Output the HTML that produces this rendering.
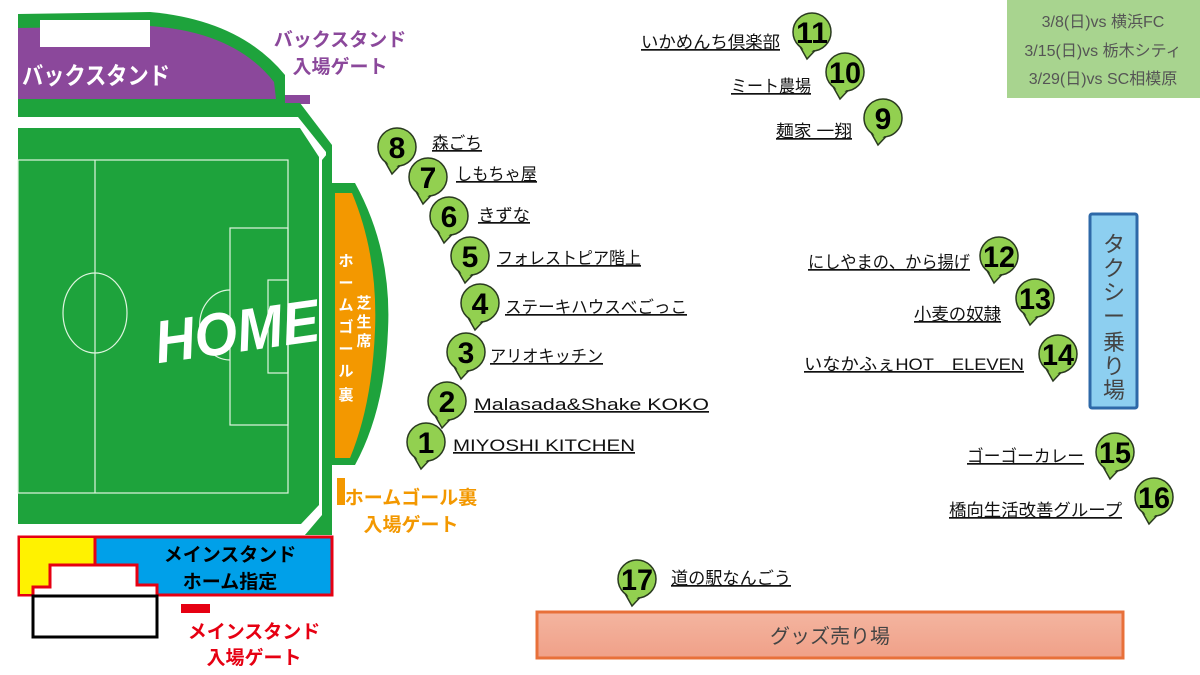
<!DOCTYPE html>
<html><head><meta charset="utf-8"><style>
html,body{margin:0;padding:0;background:#fff;}
svg{display:block;}
text{font-family:"Liberation Sans","Noto Sans CJK JP",sans-serif;}
.lb{font-size:17px;fill:#111;text-decoration:underline;}
.num{font-size:30px;fill:#000;font-weight:bold;}
</style></head><body>
<svg width="1200" height="675" viewBox="0 0 1200 675" xmlns="http://www.w3.org/2000/svg">
<defs>
<linearGradient id="gg" x1="0" y1="0" x2="0" y2="1"><stop offset="0" stop-color="#f4b5a0"/><stop offset="1" stop-color="#f0a088"/></linearGradient>
<g id="pin"><path d="M-14,11 L-5,27 L12,9 Z" fill="#92d050" stroke="#2a3a20" stroke-width="1.5"/><circle cx="0" cy="0" r="19" fill="#92d050" stroke="#2a3a20" stroke-width="1.5"/><path d="M-12,12 L-5,24 L10,10 Z" fill="#92d050"/></g>
</defs>

<!-- Back stand -->
<path d="M18,14 L150,12 Q240,20 285,75 L285,103 L18,103 Z" fill="#1ea33c"/>
<path d="M18,28 L150,26 Q235,32 274,82 L276,99 L18,99 Z" fill="#8b489b"/>
<rect x="40" y="20" width="110" height="27" fill="#fff"/>
<text x="22" y="84" font-size="24" font-weight="bold" fill="#fff" textLength="148" lengthAdjust="spacingAndGlyphs">バックスタンド</text>
<rect x="285" y="95" width="25" height="9" fill="#8b489b"/>
<text x="340" y="46" font-size="19" font-weight="bold" fill="#8b489b" text-anchor="middle">バックスタンド</text>
<text x="340" y="73" font-size="19" font-weight="bold" fill="#8b489b" text-anchor="middle">入場ゲート</text>

<!-- Field outer -->
<path d="M18,103 L300,103 L332,145 L332,535 L18,535 Z" fill="#1ea33c"/>
<path d="M18,117 L298,117 L326,152 L326,515 L305,535 L18,535 Z" fill="#fff"/>
<path d="M18,128 L300,128 L319,157 L319,505 L301,524 L18,524 Z" fill="#1ea33c"/>
<path d="M322,160 L332,148 L332,535 L305,535 L322,515 Z" fill="#1ea33c"/>
<g stroke="#dff5df" stroke-width="1.2" fill="none">
<rect x="18" y="160" width="270" height="333"/>
<line x1="95" y1="160" x2="95" y2="493"/>
<ellipse cx="95" cy="313" rx="32" ry="40"/>
<rect x="230" y="228" width="58" height="197"/>
<rect x="268" y="280" width="20" height="93"/>
<path d="M230,290 A26,30 0 0,0 230,360"/>
</g>
<text x="236" y="352" font-size="60" font-weight="bold" font-style="italic" fill="#fff" text-anchor="middle" transform="rotate(-8 236 325)" textLength="165" lengthAdjust="spacingAndGlyphs">HOME</text>

<!-- Home goal stand -->
<path d="M332,183 L355,183 Q392,250 388,330 Q385,410 355,465 L332,465 Z" fill="#1ea33c"/>
<path d="M335,193 L352,193 Q378,255 375,330 Q372,405 350,458 L335,458 Z" fill="#f39800"/>
<g font-size="15" font-weight="bold" fill="#fff" text-anchor="middle">
<text x="346" y="266">ホ</text><text x="346" y="288">ー</text><text x="346" y="310">ム</text><text x="346" y="332">ゴ</text><text x="346" y="354">ー</text><text x="346" y="376">ル</text><text x="346" y="400">裏</text>
<text x="364" y="308">芝</text><text x="364" y="327">生</text><text x="364" y="346">席</text>
</g>
<rect x="337" y="478" width="8" height="27" fill="#f39800"/>
<text x="411" y="504" font-size="19" font-weight="bold" fill="#f39800" text-anchor="middle">ホームゴール裏</text>
<text x="411" y="531" font-size="19" font-weight="bold" fill="#f39800" text-anchor="middle">入場ゲート</text>

<!-- Main stand -->
<rect x="19" y="537" width="313" height="58" fill="#00a0e9" stroke="#e60012" stroke-width="3"/>
<rect x="20" y="538" width="75" height="56" fill="#fff200"/>
<line x1="95" y1="537" x2="95" y2="595" stroke="#e60012" stroke-width="3"/>
<path d="M33,596 L33,587 L50,587 L50,565 L137,565 L137,585 L157,585 L157,596 Z" fill="#fff" stroke="#e60012" stroke-width="3"/>
<rect x="33" y="596" width="124" height="41" fill="#fff" stroke="#000" stroke-width="3"/>
<text x="230" y="561" font-size="19" font-weight="bold" fill="#000" text-anchor="middle">メインスタンド</text>
<text x="230" y="588" font-size="19" font-weight="bold" fill="#000" text-anchor="middle">ホーム指定</text>
<rect x="181" y="604" width="29" height="9" fill="#e60012"/>
<text x="254" y="638" font-size="19" font-weight="bold" fill="#e60012" text-anchor="middle">メインスタンド</text>
<text x="254" y="664" font-size="19" font-weight="bold" fill="#e60012" text-anchor="middle">入場ゲート</text>

<!-- Info box -->
<rect x="1007" y="0" width="193" height="98" fill="#a8d48f"/>
<g font-size="16" fill="#555" text-anchor="middle">
<text x="1103" y="27">3/8(日)vs 横浜FC</text>
<text x="1103" y="56">3/15(日)vs 栃木シティ</text>
<text x="1103" y="84">3/29(日)vs SC相模原</text>
</g>

<!-- Taxi -->
<rect x="1090" y="214" width="47" height="194" fill="#8dcff0" stroke="#2e69a8" stroke-width="3" rx="2"/>
<g font-size="22" fill="#444" text-anchor="middle">
<text x="1114" y="252">タ</text><text x="1114" y="276">ク</text><text x="1114" y="300">シ</text><text x="1114" y="324">ー</text><text x="1114" y="350">乗</text><text x="1114" y="374">り</text><text x="1114" y="398">場</text>
</g>

<!-- Goods -->
<rect x="537" y="612" width="586" height="46" fill="url(#gg)" stroke="#e8703a" stroke-width="3"/>
<text x="830" y="643" font-size="20" fill="#444" text-anchor="middle">グッズ売り場</text>

<!-- Labels -->
<text class="lb" x="641" y="48" textLength="139" lengthAdjust="spacingAndGlyphs">いかめんち倶楽部</text>
<text class="lb" x="731" y="92" textLength="80" lengthAdjust="spacingAndGlyphs">ミート農場</text>
<text class="lb" x="776" y="137" textLength="76" lengthAdjust="spacingAndGlyphs">麺家 一翔</text>
<text class="lb" x="432" y="149" textLength="50" lengthAdjust="spacingAndGlyphs">森ごち</text>
<text class="lb" x="456" y="180" textLength="81" lengthAdjust="spacingAndGlyphs">しもちゃ屋</text>
<text class="lb" x="478" y="221" textLength="52" lengthAdjust="spacingAndGlyphs">きずな</text>
<text class="lb" x="497" y="264" textLength="144" lengthAdjust="spacingAndGlyphs">フォレストピア階上</text>
<text class="lb" x="505" y="313" textLength="182" lengthAdjust="spacingAndGlyphs">ステーキハウスべごっこ</text>
<text class="lb" x="490" y="362" textLength="113" lengthAdjust="spacingAndGlyphs">アリオキッチン</text>
<text class="lb" x="474" y="410" textLength="235" lengthAdjust="spacingAndGlyphs">Malasada&amp;Shake KOKO</text>
<text class="lb" x="453" y="451" textLength="182" lengthAdjust="spacingAndGlyphs">MIYOSHI KITCHEN</text>
<text class="lb" x="808" y="268" textLength="162" lengthAdjust="spacingAndGlyphs">にしやまの、から揚げ</text>
<text class="lb" x="914" y="320" textLength="87" lengthAdjust="spacingAndGlyphs">小麦の奴隷</text>
<text class="lb" x="804" y="370" textLength="220" lengthAdjust="spacingAndGlyphs">いなかふぇHOT　ELEVEN</text>
<text class="lb" x="967" y="462" textLength="117" lengthAdjust="spacingAndGlyphs">ゴーゴーカレー</text>
<text class="lb" x="949" y="516" textLength="173" lengthAdjust="spacingAndGlyphs">橋向生活改善グループ</text>
<text class="lb" x="671" y="584" textLength="120" lengthAdjust="spacingAndGlyphs">道の駅なんごう</text>

<!-- Pins -->
<g>
<use href="#pin" x="812" y="32"/><text class="num" x="812" y="43" text-anchor="middle" textLength="32" lengthAdjust="spacingAndGlyphs">11</text>
<use href="#pin" x="845" y="72"/><text class="num" x="845" y="83" text-anchor="middle" textLength="32" lengthAdjust="spacingAndGlyphs">10</text>
<use href="#pin" x="883" y="118"/><text class="num" x="883" y="129" text-anchor="middle">9</text>
<use href="#pin" x="397" y="147"/><text class="num" x="397" y="158" text-anchor="middle">8</text>
<use href="#pin" x="428" y="177"/><text class="num" x="428" y="188" text-anchor="middle">7</text>
<use href="#pin" x="449" y="216"/><text class="num" x="449" y="227" text-anchor="middle">6</text>
<use href="#pin" x="470" y="256"/><text class="num" x="470" y="267" text-anchor="middle">5</text>
<use href="#pin" x="480" y="303"/><text class="num" x="480" y="314" text-anchor="middle">4</text>
<use href="#pin" x="466" y="352"/><text class="num" x="466" y="363" text-anchor="middle">3</text>
<use href="#pin" x="447" y="401"/><text class="num" x="447" y="412" text-anchor="middle">2</text>
<use href="#pin" x="426" y="442"/><text class="num" x="426" y="453" text-anchor="middle">1</text>
<use href="#pin" x="999" y="256"/><text class="num" x="999" y="267" text-anchor="middle" textLength="32" lengthAdjust="spacingAndGlyphs">12</text>
<use href="#pin" x="1035" y="298"/><text class="num" x="1035" y="309" text-anchor="middle" textLength="32" lengthAdjust="spacingAndGlyphs">13</text>
<use href="#pin" x="1058" y="354"/><text class="num" x="1058" y="365" text-anchor="middle" textLength="32" lengthAdjust="spacingAndGlyphs">14</text>
<use href="#pin" x="1115" y="452"/><text class="num" x="1115" y="463" text-anchor="middle" textLength="32" lengthAdjust="spacingAndGlyphs">15</text>
<use href="#pin" x="1154" y="497"/><text class="num" x="1154" y="508" text-anchor="middle" textLength="32" lengthAdjust="spacingAndGlyphs">16</text>
<use href="#pin" x="637" y="579"/><text class="num" x="637" y="590" text-anchor="middle" textLength="32" lengthAdjust="spacingAndGlyphs">17</text>
</g>
</svg>
</body></html>
